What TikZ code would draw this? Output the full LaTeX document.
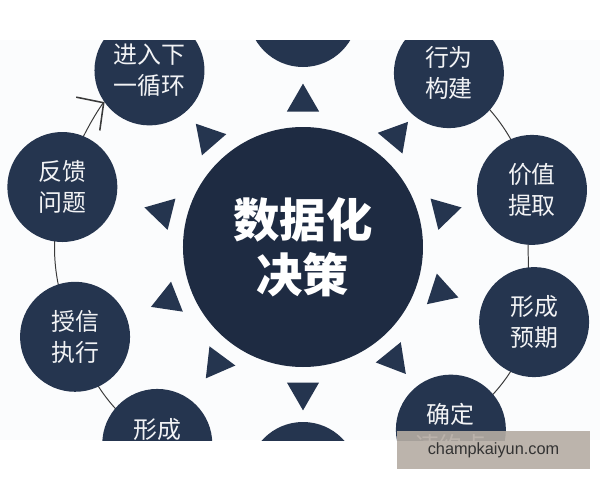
\documentclass[tikz,border=0pt]{standalone}
\usepackage{fontspec}
\newfontfamily\cjk{Noto Sans CJK SC}
\newfontfamily\wmfont{Liberation Sans}
\usepackage{tikz}
\usetikzlibrary{shapes.geometric,arrows.meta}
\pgfdeclarelayer{background}
\pgfsetlayers{background,main}
\definecolor{navy}{HTML}{25354F}
\definecolor{hubnavy}{HTML}{1E2B42}
\definecolor{ringgray}{HTML}{3A3A3A}
\definecolor{wmfill}{HTML}{B5ACA3}
\definecolor{paper}{HTML}{FBFCFD}

\begin{document}
\begin{tikzpicture}[
		hub/.style={circle,fill=hubnavy,minimum size=6cm,inner sep=0pt,text=white,align=center,
			font=\cjk\bfseries\fontsize{33}{39}\selectfont},
		stage/.style={circle,fill=navy,minimum size=2.75cm,inner sep=0pt,text=white!94!navy,align=center,
			font=\cjk\fontsize{17}{22}\selectfont},
		pointer/.style={regular polygon,regular polygon sides=3,fill=navy,minimum size=0.93cm,inner sep=0pt},
		ring/.style={ringgray,line width=0.7pt},
		watermark/.style={fill=wmfill,fill opacity=0.9,text opacity=1,text=black!80,inner sep=0pt,
			minimum width=4.825cm,minimum height=0.95cm,font=\wmfont\fontsize{11.6}{14}\selectfont}
	]
	\useasboundingbox (-7.575,-5.825) rectangle (7.425,6.175);
	\begin{scope}
		\clip (-7.575,-4.825) rectangle (7.425,5.175);
		\node[hub] (core) at (0,0) {数据化\\决策};
		\foreach \ang/\rad/\name/\txt in {90/5.875/top/{}, 131/5.85/loop/{进入下\\一循环},
			166/6.2/fb/{反馈\\问题}, 201.5/6.125/credit/{授信\\执行}, 233.5/6.125/form/{形成\\\mbox{}},
			270/5.75/bottom/{}, 309/5.875/default/{确定\\违约点}, 342/6.075/expect/{形成\\预期},
			14/5.9/value/{价值\\提取}, 50/5.675/behave/{行为\\构建}} {
			\node[stage] (\name) at (\ang:\rad) {\txt};
			\node[pointer,rotate=\ang-90] (tip-\name) at (\ang:3.62) {};
		};
	\end{scope}
	% ring through the stage centres, kept behind the circles
	\begin{pgfonlayer}{background}
		\clip (-7.575,-4.825) rectangle (7.425,5.175);
		\fill[paper] (-7.575,-4.825) rectangle (7.425,5.175);
		\draw[ring] (form.center) to[bend left=18] (credit.center);
		\draw[ring] (credit.center) to[bend left=18] (fb.center);
		\draw[ring,-{Straight Barb[length=0.48cm,width=1.02cm,line width=1.1pt]},shorten >=1.375cm]
			(fb.center) to[bend left=18] (loop.center);
		\draw[ring] (behave.center) to[bend left=18] (value.center);
		\draw[ring] ([xshift=-0.12cm]value.center) -- ([xshift=-0.12cm]expect.center);
		\draw[ring] (expect.center) to[bend left=18] (default.center);
	\end{pgfonlayer}
	\node[watermark] (wm) at (4.7625,-5.075) {champkaiyun.com};
\end{tikzpicture}
\end{document}
